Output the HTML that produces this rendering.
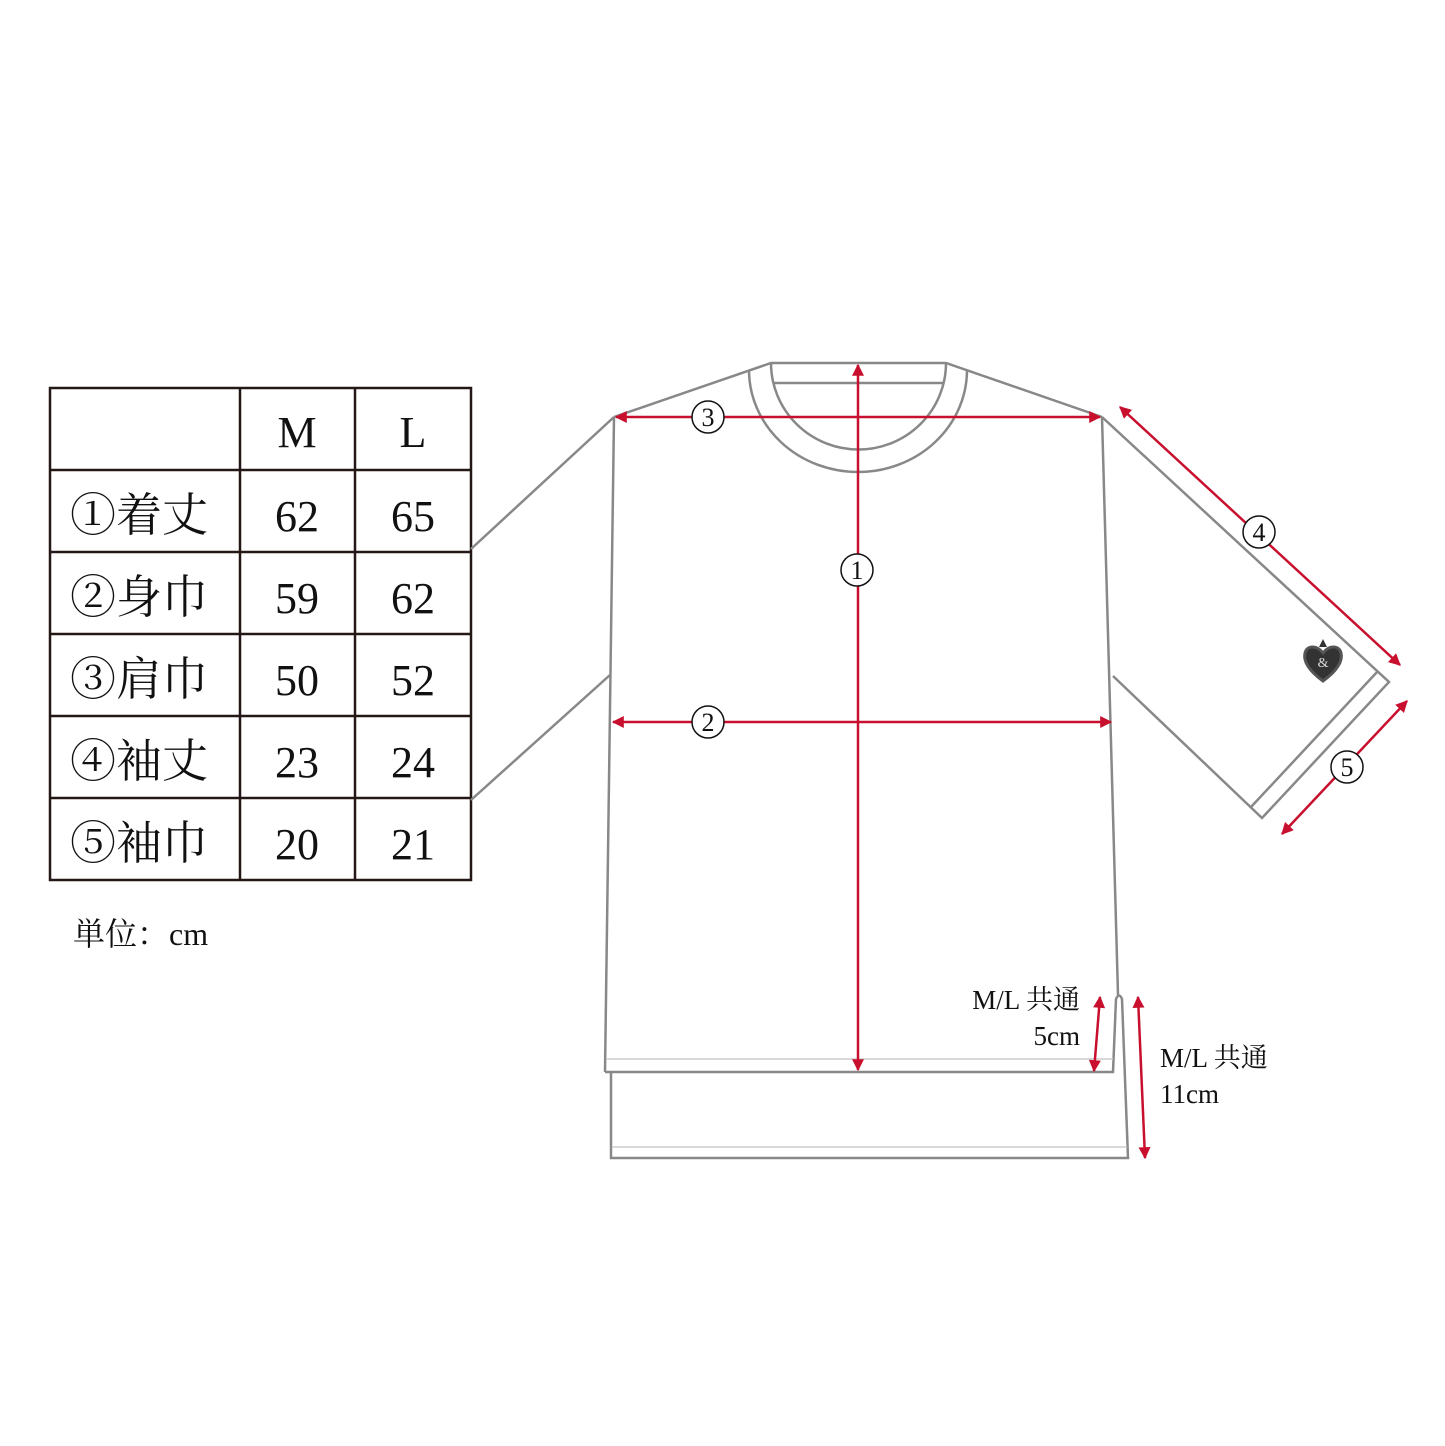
<!DOCTYPE html>
<html><head><meta charset="utf-8"><style>
html,body{margin:0;padding:0;background:#fff;}
svg{display:block;}
text{font-family:"Liberation Serif","Noto Serif CJK SC","Noto Serif CJK JP",serif;fill:#111;}
</style></head><body>
<svg width="1445" height="1446" viewBox="0 0 1445 1446" xmlns="http://www.w3.org/2000/svg">
<defs>
<marker id="b" viewBox="0 0 10 10" refX="9" refY="5" markerWidth="18" markerHeight="12" orient="auto-start-reverse" markerUnits="userSpaceOnUse">
<path d="M0,0 L10,5 L0,10 z" fill="#c8102e"/></marker>
</defs>
<g stroke="#231815" stroke-width="2.5" fill="none">
<rect x="50" y="388" width="421" height="492"/>
<line x1="240" y1="388" x2="240" y2="880"/>
<line x1="355" y1="388" x2="355" y2="880"/>
<line x1="50" y1="470" x2="471" y2="470"/>
<line x1="50" y1="552" x2="471" y2="552"/>
<line x1="50" y1="634" x2="471" y2="634"/>
<line x1="50" y1="716" x2="471" y2="716"/>
<line x1="50" y1="798" x2="471" y2="798"/>
</g>
<g font-size="44" text-anchor="middle">
<text x="297" y="447">M</text><text x="413" y="447">L</text>
<text x="297" y="531">62</text><text x="413" y="531">65</text>
<text x="297" y="613">59</text><text x="413" y="613">62</text>
<text x="297" y="695">50</text><text x="413" y="695">52</text>
<text x="297" y="777">23</text><text x="413" y="777">24</text>
<text x="297" y="859">20</text><text x="413" y="859">21</text>
</g>
<g font-size="46">
<text x="70" y="531">①着丈</text>
<text x="70" y="613">②身巾</text>
<text x="70" y="695">③肩巾</text>
<text x="70" y="777">④袖丈</text>
<text x="70" y="859">⑤袖巾</text>
</g>
<text x="73" y="945" font-size="32">単位：cm</text>

<g stroke="#888" stroke-width="2.5" fill="none">
<polyline points="614,417 771,363 946,363 1102,417"/>
<path d="M749,370 A109,102 0 0 0 967,370"/>
<path d="M771,363 A87,86 0 0 0 946,363"/>
<line x1="774" y1="383" x2="943" y2="383"/>
<line x1="614" y1="417" x2="605" y2="1072"/>
<path d="M605,1072 L1113,1072 L1116,999 Q1119,992 1122,999 L1128,1158 L611,1158 L611,1072"/>
<line x1="1102" y1="417" x2="1118" y2="995"/>
<line x1="614" y1="417" x2="471" y2="549"/>
<line x1="610" y1="675" x2="471" y2="800"/>
<polyline points="1102,417 1389,682 1262,818 1113,676"/>
<line x1="1378" y1="671" x2="1251" y2="807"/>
</g>
<g stroke="#ccc" stroke-width="1.5">
<line x1="606" y1="1059" x2="1113" y2="1059"/>
<line x1="612" y1="1147" x2="1127" y2="1147"/>
</g>
<g transform="translate(1323,663)">
<path d="M0,18 C-14,8 -20,-2 -18,-10 C-16,-18 -6,-18 0,-10 C6,-18 16,-18 18,-10 C20,-2 14,8 0,18z" fill="#333" stroke="#555" stroke-width="3"/>
<path d="M-4,-16 L0,-24 L4,-16" fill="#333"/>
<text x="0" y="4" font-size="14" text-anchor="middle" style="fill:#ddd">&amp;</text>
</g>
<g stroke="#c8102e" stroke-width="2.5" fill="none">
<line x1="858" y1="365" x2="858" y2="1070" marker-start="url(#b)" marker-end="url(#b)"/>
<line x1="616" y1="417" x2="1100" y2="417" marker-start="url(#b)" marker-end="url(#b)"/>
<line x1="613" y1="722" x2="1111" y2="722" marker-start="url(#b)" marker-end="url(#b)"/>
<line x1="1120" y1="407" x2="1400" y2="665" marker-start="url(#b)" marker-end="url(#b)"/>
<line x1="1407" y1="701" x2="1282" y2="834" marker-start="url(#b)" marker-end="url(#b)"/>
<line x1="1100" y1="997" x2="1094" y2="1071" marker-start="url(#b)" marker-end="url(#b)"/>
<line x1="1138" y1="997" x2="1145" y2="1158" marker-start="url(#b)" marker-end="url(#b)"/>
</g>
<g font-size="26" text-anchor="middle">
<circle cx="708" cy="417" r="16" fill="#fff" stroke="#111" stroke-width="1.5"/><text x="708" y="426">3</text>
<circle cx="857" cy="570" r="16" fill="#fff" stroke="#111" stroke-width="1.5"/><text x="857" y="579">1</text>
<circle cx="708" cy="722" r="16" fill="#fff" stroke="#111" stroke-width="1.5"/><text x="708" y="731">2</text>
<circle cx="1259" cy="532" r="16" fill="#fff" stroke="#111" stroke-width="1.5"/><text x="1259" y="541">4</text>
<circle cx="1347" cy="767" r="16" fill="#fff" stroke="#111" stroke-width="1.5"/><text x="1347" y="776">5</text>
</g>
<g font-size="27">
<text x="1080" y="1009" text-anchor="end">M/L 共通</text>
<text x="1080" y="1045" text-anchor="end">5cm</text>
<text x="1160" y="1067">M/L 共通</text>
<text x="1160" y="1103">11cm</text>
</g>
</svg>
</body></html>
